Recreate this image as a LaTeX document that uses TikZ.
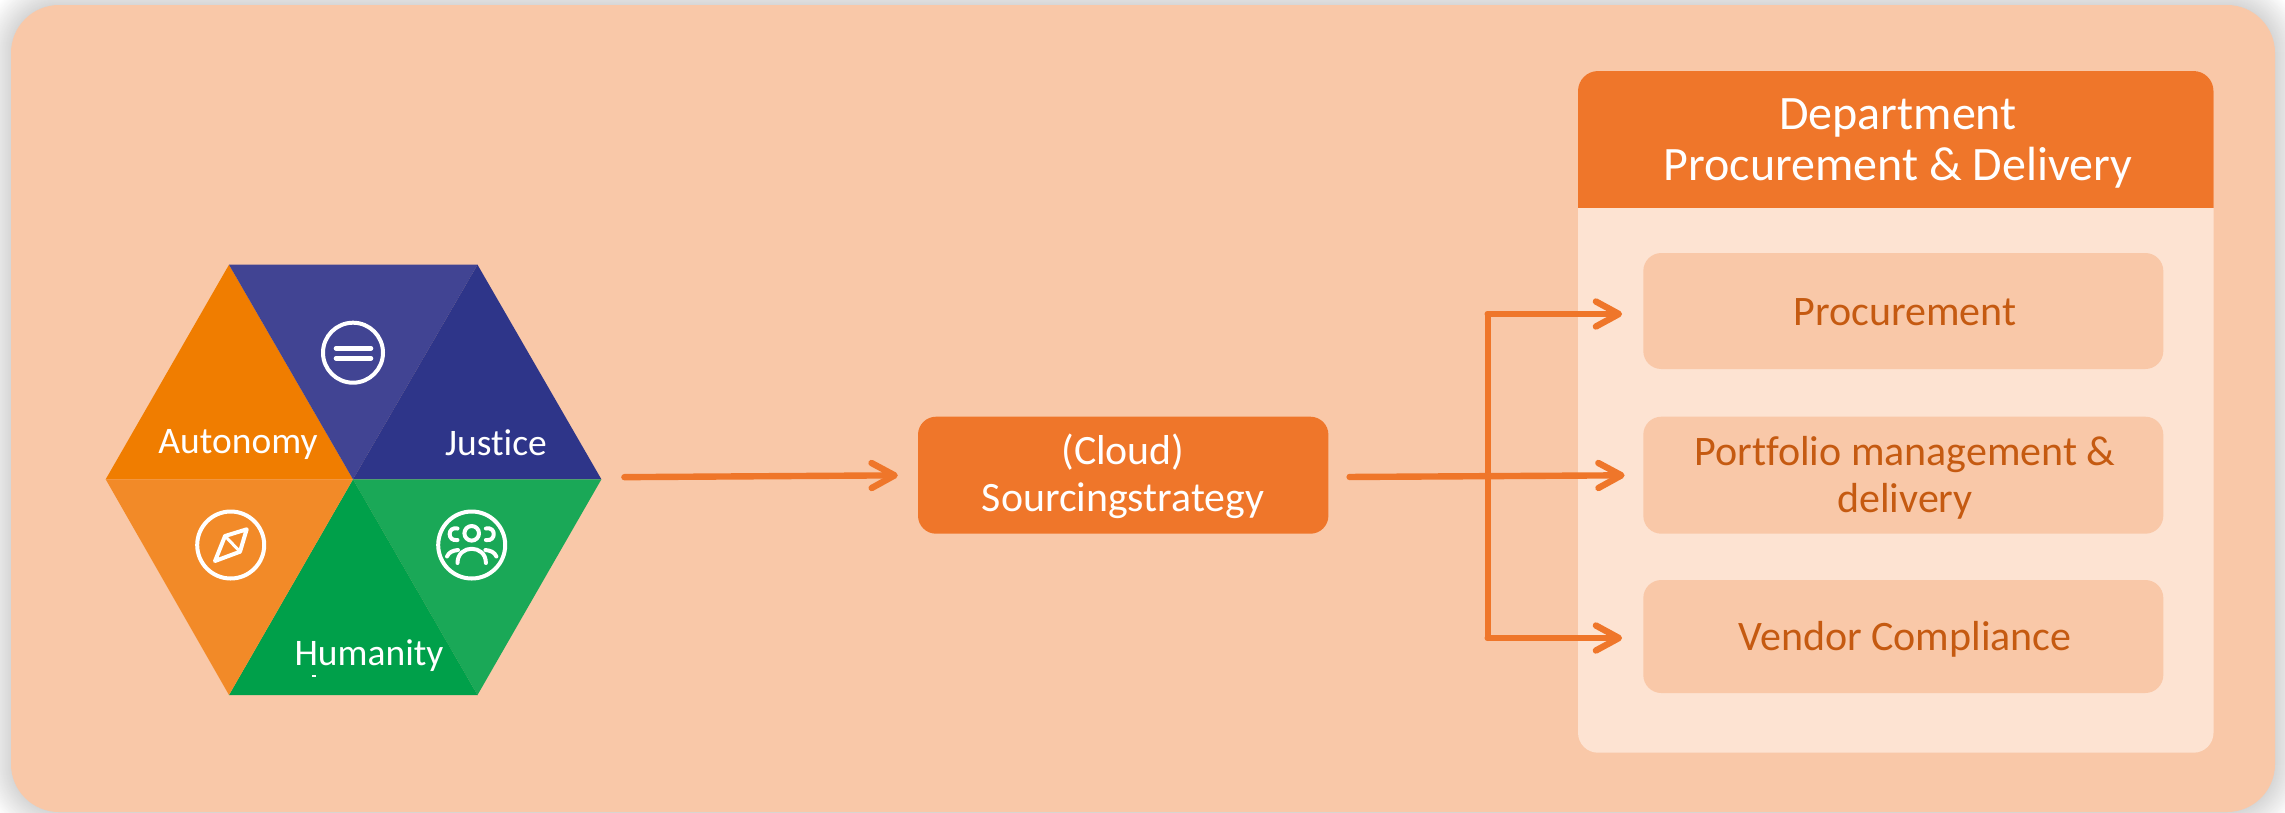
\documentclass[tikz,border=0pt]{standalone}
\usepackage{fontspec}
\setmainfont[Ligatures=NoCommon]{Carlito}
\usetikzlibrary{arrows.meta,calc}
\definecolor{shell}{HTML}{F9C8A8}
\definecolor{accent}{HTML}{EF762A}
\definecolor{pale}{HTML}{FDE3D2}
\definecolor{rust}{HTML}{C55A11}
\definecolor{hexA}{HTML}{F07D00}
\definecolor{hexB}{HTML}{414493}
\definecolor{hexC}{HTML}{2E3589}
\definecolor{hexD}{HTML}{1AA857}
\definecolor{hexE}{HTML}{00A04A}
\definecolor{hexF}{HTML}{F28A28}
\tikzset{
  x=1pt,y=-1pt,
  orangebox/.style={fill=accent,rounded corners=18pt,inner sep=0pt,minimum width=410.4pt,minimum height=117pt},
  subbox/.style={fill=shell,rounded corners=18pt,inner sep=0pt,minimum width=520pt},
  whitetext/.style={text=white,anchor=base,inner sep=0pt,align=center},
  rusttext/.style={text=rust,anchor=base,inner sep=0pt},
  conn/.style={draw=accent,line width=6.4pt,line cap=round,-{Straight Barb[length=23pt,width=25pt,round]}},
  bus/.style={draw=accent,line width=6pt,line cap=round},
  icon/.style={draw=white,line width=4pt,line cap=round,line join=round},
}
\newcommand{\sz}[1]{\fontsize{#1pt}{#1pt}\selectfont}
\begin{document}
\begin{tikzpicture}
\clip (0,0) rectangle (2285,812);
\fill[white] (0,0) rectangle (2285,812);
% soft shadow round the panel
\foreach \i in {30,...,0}{
  \fill[black!\fpeval{16-\i*16/30}!white,rounded corners={(48+\i)*1pt}]
    (11-\i,5-\i) rectangle (2275+\i,812+\i);
}
\fill[shell,rounded corners=48pt] (11,5) rectangle (2275,812);

% hexagon
\coordinate (hc) at (353,479.3);
\coordinate (htl) at (229,264.7);
\coordinate (htr) at (477.5,264.7);
\coordinate (hr) at (601.4,479.3);
\coordinate (hbr) at (477.5,695);
\coordinate (hbl) at (229,695);
\coordinate (hl) at (105.7,479.3);
\fill[hexA] (hl) -- (htl) -- (hc) -- cycle;
\fill[hexB] (htl) -- (htr) -- (hc) -- cycle;
\fill[hexC] (htr) -- (hr) -- (hc) -- cycle;
\fill[hexD] (hr) -- (hbr) -- (hc) -- cycle;
\fill[hexE] (hbr) -- (hbl) -- (hc) -- cycle;
\fill[hexF] (hbl) -- (hl) -- (hc) -- cycle;

\node[whitetext] (tAut) at (238,453) {\sz{37.5}Autonomy};
\node[whitetext] (tJus) at (496,455) {\sz{37.5}Justice};
\node[whitetext] (tHum) at (369,665) {\sz{37.5}Humanity};
\fill[white] (312,675.3) rectangle (316,676.6);

% equal icon
\draw[icon] (353,352.7) circle[radius=30pt];
\draw[icon,line width=4.6pt] (336,348.3) -- (371,348.3);
\draw[icon,line width=4.6pt] (336,358.3) -- (371,358.3);
% compass icon
\draw[icon] (230.7,545) circle[radius=33.5pt];
\draw[icon] (246.7,529.3) -- (225,536) -- (215,561) -- (240,551.7) -- cycle;
\draw[icon,line width=3pt] (225,536) -- (240,551.7);
% people icon
\draw[icon] (471.7,545) circle[radius=33.5pt];
\draw[icon] (471.7,533.3) circle[radius=7.3pt];
\draw[icon] (457.5,528.5) .. controls (447,526) and (447,542) .. (457.5,540);
\draw[icon] (485.9,528.5) .. controls (496.4,526) and (496.4,542) .. (485.9,540);
\draw[icon] (457.5,563) .. controls (457.5,544) and (485.9,544) .. (485.9,563);
\draw[icon] (447,556.5) .. controls (449,552) and (453,550.5) .. (458,550);
\draw[icon] (496.4,556.5) .. controls (494.4,552) and (490.4,550.5) .. (485.4,550);

% centre box
\node[orangebox] (strat) at (1123.2,475.2) {};
\node[whitetext] (tCloud) at (1123,464) {\sz{41.8}(Cloud)};
\node[whitetext] (tSource) at (1123,511.7) {\sz{41.8}Sourcingstrategy};

% department panel
\fill[pale,rounded corners=20pt] (1578,71) rectangle (2213.5,752.7);
\begin{scope}
  \clip (1578,71) rectangle (2213.5,207);
  \fill[accent,rounded corners=20pt] (1578,71) rectangle (2213.5,300);
\end{scope}
\node[whitetext] (tDept) at (1898,129) {\sz{48}Department};
\node[whitetext] (tPD) at (1898,180.5) {\sz{48}Procurement \& Delivery};

\node[subbox,minimum height=116pt] (proc) at (1903.3,311) {};
\node[subbox,minimum height=117pt] (port) at (1903.3,475.2) {};
\node[subbox,minimum height=113pt] (vend) at (1903.3,636.5) {};
\node[rusttext] (tProc) at (1905,325.5) {\sz{42}Procurement};
\node[rusttext] (tPort) at (1905,465.5) {\sz{42}Portfolio management \&};
\node[rusttext] (tDel) at (1905,512) {\sz{42}delivery};
\node[rusttext] (tVend) at (1905,650.5) {\sz{42}Vendor Compliance};

% connectors
\coordinate (hexout) at (601.4,477.3);
\coordinate (stratout) at ($(strat.east)+(0,1.9)$);
\coordinate (bustop) at (1487.7,314);
\coordinate (busbot) at (1487.7,638);
\draw[conn,shorten <=23pt,shorten >=20pt] (hexout) -- (strat.west);
\draw[bus] (bustop) -- (busbot);
\draw[conn,shorten <=21pt,shorten >=18.5pt] (stratout) -- (port.west);
\draw[conn,shorten >=21pt] (bustop) -- (proc.west |- bustop);
\draw[conn,shorten >=21pt] (busbot) -- (vend.west |- busbot);
\end{tikzpicture}
\end{document}
